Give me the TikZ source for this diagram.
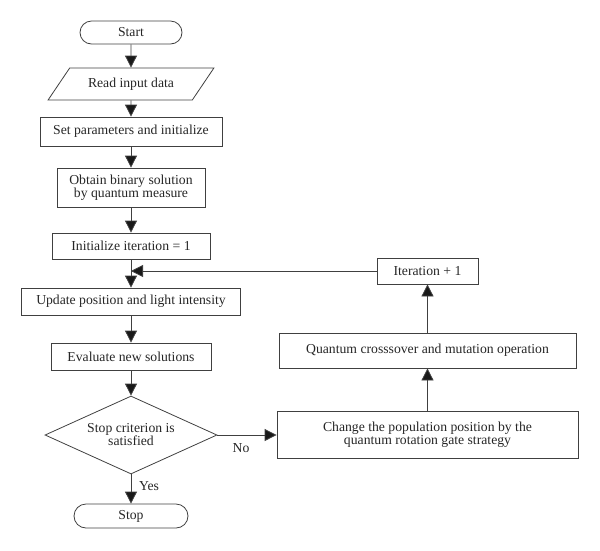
\documentclass[tikz,border=0pt]{standalone}
\usepackage{fontspec}
\setmainfont{Liberation Serif}
\usetikzlibrary{arrows.meta,shapes.geometric,shapes.misc}
\begin{document}
\begin{tikzpicture}[x=1pt,y=-1pt,
  font=\fontsize{13.7}{15}\selectfont,
  every node/.style={draw=black!75, line width=0.8pt, inner sep=2pt, align=center, text=black!85},
  box/.style={rectangle},
  term/.style={rounded rectangle},
  io/.style={trapezium, trapezium left angle=46, trapezium right angle=134, trapezium stretches=true},
  dec/.style={diamond, inner sep=0pt},
  lbl/.style={draw=none, inner sep=0pt},
  conn/.style={draw=black!75, line width=0.8pt, -{Triangle[length=12pt,width=12pt,fill=black!90]}},
  plain/.style={draw=black!75, line width=0.8pt}
]
\useasboundingbox (0,0) rectangle (600,550);
\node[term, minimum width=106, minimum height=23] (start) at (131,32.5) {Start};
\node[io, minimum width=166, minimum height=32] (read) at (131,84) {Read input data};
\node[box, minimum width=182, minimum height=29] (set) at (131,131.5) {Set parameters and initialize};
\node[box, minimum width=148, minimum height=39] (obt) at (131,187.5) {Obtain binary solution\\[-2pt]by quantum measure};
\node[box, minimum width=158, minimum height=26] (init) at (131,246) {Initialize iteration = 1};
\coordinate (merge) at (131,271);
\node[box, minimum width=219, minimum height=27] (upd) at (131,301.5) {Update position and light intensity};
\node[box, minimum width=160, minimum height=27] (eval) at (131,356.5) {Evaluate new solutions};
\node[dec, minimum width=172, minimum height=78, aspect=2.2] (stopq) at (131,435) {Stop criterion is\\[-2pt]satisfied};
\node[term, minimum width=118, minimum height=24] (stop) at (131,516) {Stop};
\node[box, minimum width=301, minimum height=47] (chg) at (427.5,434.5) {Change the population position by the\\[-2pt]quantum rotation gate strategy};
\node[box, minimum width=297, minimum height=35] (cross) at (427.5,350.5) {Quantum crosssover and mutation operation};
\node[box, minimum width=101, minimum height=26] (iter) at (427.5,271) {Iteration + 1};
\node[lbl] (no) at (241,448) {No};
\node[lbl] (yes) at (149,486) {Yes};

\draw[conn] (start) -- (read);
\draw[conn] (read) -- (set);
\draw[conn] (set) -- (obt);
\draw[conn] (obt) -- (init);
\draw[conn] (init) -- (upd);
\draw[conn] (upd) -- (eval);
\draw[conn] (eval) -- (stopq);
\draw[conn] (stopq) -- (stop);
\draw[conn] (stopq.east) -- (chg.west |- stopq.east);
\draw[conn] (chg) -- (cross);
\draw[conn] (cross) -- (iter);
\draw[conn] (iter.west) -- (merge);
\end{tikzpicture}
\end{document}
